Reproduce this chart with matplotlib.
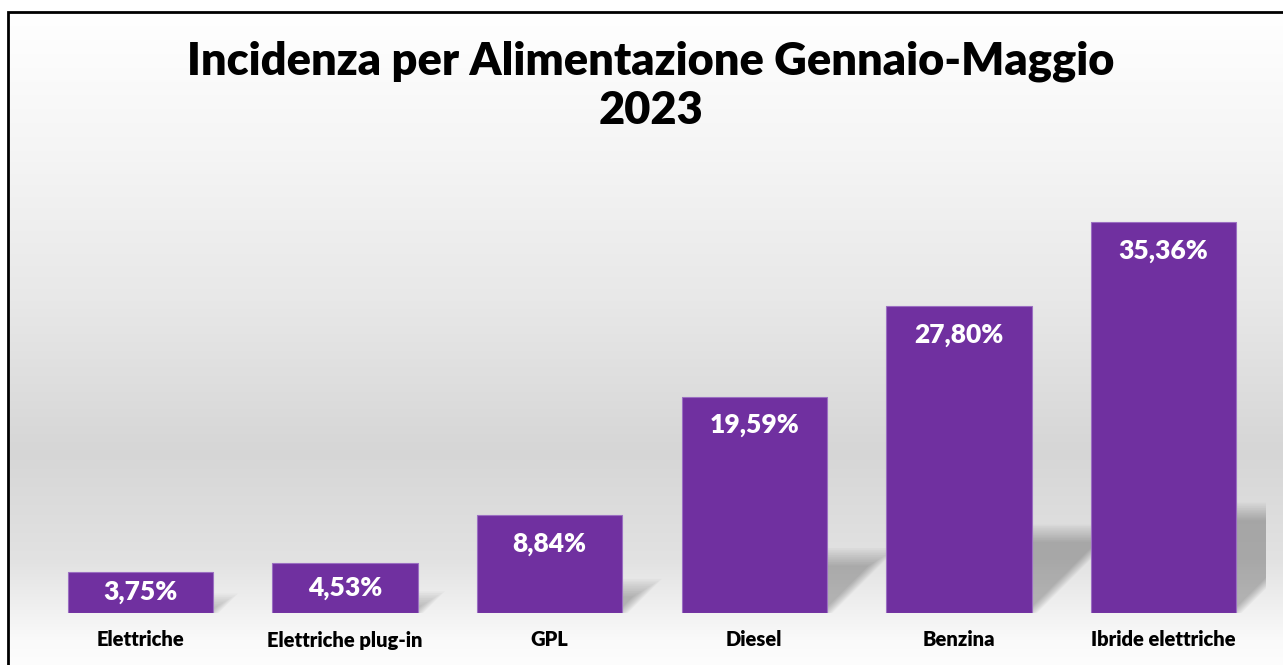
import matplotlib.pyplot as plt
from matplotlib.patches import Polygon
import numpy as np

plt.rcParams['font.family'] = ['Lato', 'DejaVu Sans']

# dati
categorie = ["Elettriche", "Elettriche plug-in", "GPL", "Diesel", "Benzina", "Ibride elettriche"]
valori = [3.75, 4.53, 8.84, 19.59, 27.80, 35.36]
etichette = ["3,75%", "4,53%", "8,84%", "19,59%", "27,80%", "35,36%"]
titolo = "Incidenza per Alimentazione Gennaio-Maggio\n2023"

W, H = 1283, 665
fig = plt.figure(figsize=(W / 100, H / 100), dpi=100)

# sfondo con gradiente + cornice
bg = fig.add_axes([0, 0, 1, 1])
bg.set_xlim(0, W)
bg.set_ylim(H, 0)
bg.axis('off')
stop_y = [12, 150, 300, 450, 560, 640, 665]
stop_c = [255, 245, 232, 214, 226, 250, 253]
yy = np.arange(12, H)
g = np.interp(yy, stop_y, stop_c) / 255
img = np.dstack([np.repeat(g[:, None], 4, axis=1)] * 3)
bg.imshow(img, extent=[8, W, H, 12], aspect='auto', interpolation='none')
bg.plot([8, 8, W + 5], [H + 5, 12, 12], color='black', lw=2, solid_joinstyle='miter')

# grafico
px_per_unit = 11.05
ax = fig.add_axes([38.2 / W, (H - 613) / H, 1227.6 / W, (613 - 180) / H])
ax.set_facecolor('none')
ax.set_xlim(-0.5, 5.5)
ax.set_ylim(0, (613 - 180) / px_per_unit)
ax.axis('off')

x = np.arange(len(categorie))
larg = 0.71
slot_px = 204.6

# ombre prospettiche (sfocate con piu' strati)
for xi, v in zip(x, valori):
    for k in range(11):
        e = (k - 5) * 0.45
        rise = v * 0.26 + e * 0.35
        dx = rise * px_per_unit / slot_px
        x0 = xi - larg / 2 + 0.02
        x1 = xi + larg / 2 + e * 0.012
        pts = [(x0, 0), (x1, 0), (x1 + dx, rise), (x0 + dx, rise)]
        ax.add_patch(Polygon(pts, closed=True, facecolor='black', edgecolor='none',
                             alpha=0.022, zorder=1))

ax.bar(x, valori, width=larg, color='#7030A0', edgecolor='#9b6fc2', linewidth=0.8, zorder=3)

for xi, v, t in zip(x, valori, etichette):
    ax.text(xi, max(v - 2.6, v / 2), t, ha='center', va='center', color='white',
            fontsize=19, fontweight='heavy', zorder=4)

for xi, c in zip(x, categorie):
    ax.text(xi, -27 / px_per_unit, c, ha='center', va='center', color='black',
            fontsize=14.5, fontweight='heavy', clip_on=False)

fig.text(651 / W, 1 - 86 / H, titolo, ha='center', va='center', fontsize=32.5,
         fontweight='heavy', linespacing=1.25)

fig.savefig('out.png', dpi=100)
